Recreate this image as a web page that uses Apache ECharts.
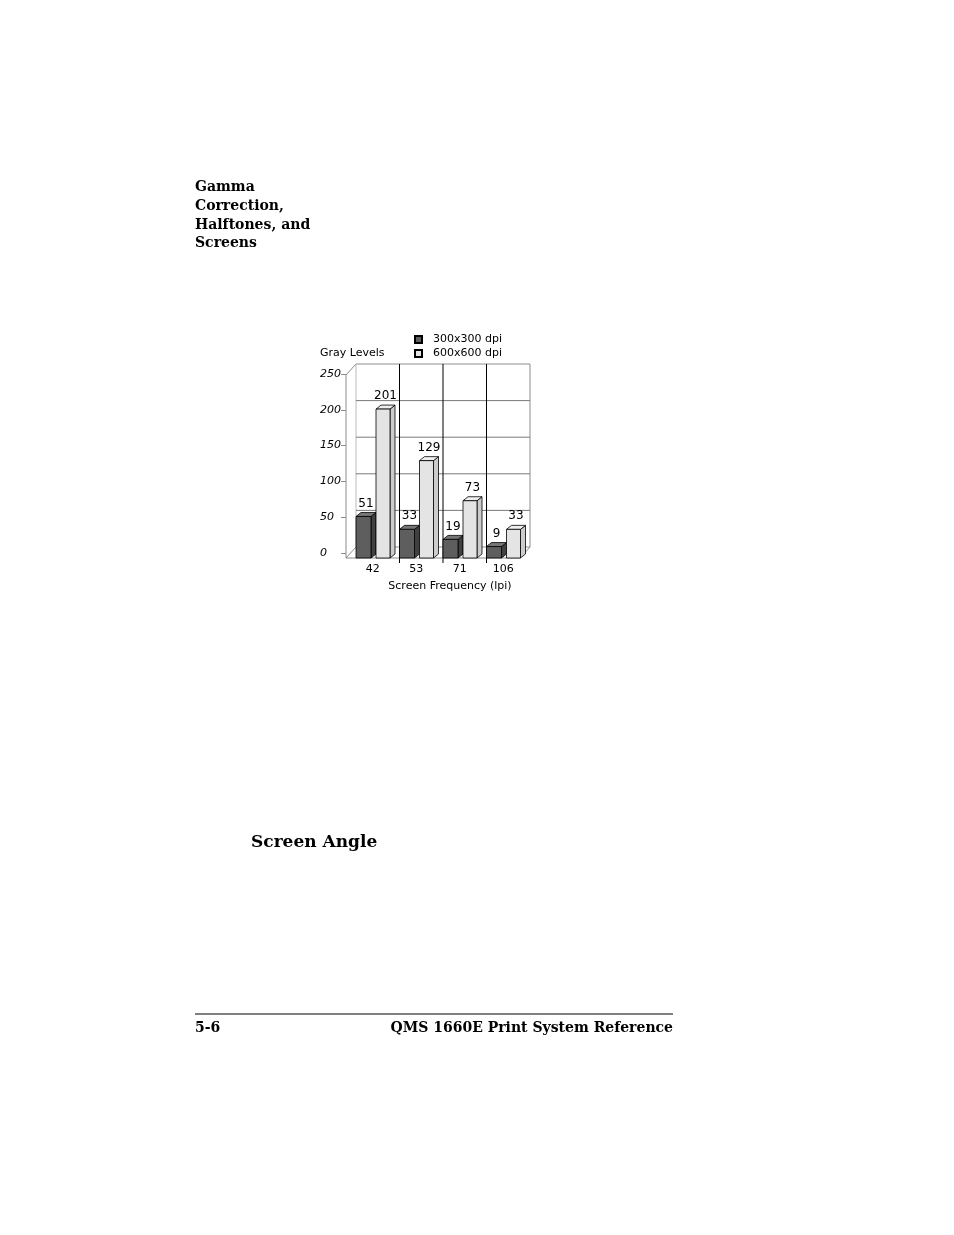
<!DOCTYPE html>
<html>
<head>
<meta charset="utf-8">
<script src="https://cdn.jsdelivr.net/npm/echarts@6/dist/echarts.min.js"></script>
<style>
  html, body { margin: 0; padding: 0; background: #fff; }
  #page { width: 954px; height: 1235px; }
</style>
</head>
<body>
<div id="page"></div>
<script>
// chart data
var categories = ['42', '53', '71', '106'];
var dpi300 = [51, 33, 19, 9];
var dpi600 = [201, 129, 73, 33];
var seriesNames = ['300x300 dpi', '600x600 dpi'];
var gridLevels = [50, 100, 150, 200];

var chartFont = '"DejaVu Sans", sans-serif';
var serifBold = 'bold 14px "DejaVu Serif", "Liberation Serif", serif';

function toPairs(arr) {
    return arr.map(function(v, i) { return [i, v]; });
}

// 3d-ish bar: front face, top face, side face
function barRenderer(offset, width, colors) {
    return function(params, api) {
        var cat = api.value(0), v = api.value(1);
        var base = api.coord([cat, 0]);
        var top = api.coord([cat, v]);
        var band = api.size([1, 0])[0];
        var x = base[0] - band / 2 + offset;
        var yTop = top[1];
        var yBot = base[1] + 5;
        var dx = 5, dy = 4;
        var stroke = { stroke: '#000', lineWidth: 0.8 };
        return {
            type: 'group',
            children: [{
                type: 'polygon',
                shape: { points: [[x + width, yTop], [x + width + dx, yTop - dy], [x + width + dx, yBot - dy], [x + width, yBot]] },
                style: Object.assign({ fill: colors.side }, stroke)
            }, {
                type: 'polygon',
                shape: { points: [[x, yTop], [x + dx, yTop - dy], [x + width + dx, yTop - dy], [x + width, yTop]] },
                style: Object.assign({ fill: colors.top }, stroke)
            }, {
                type: 'rect',
                shape: { x: x, y: yTop, width: width, height: yBot - yTop },
                style: Object.assign({ fill: colors.front }, stroke)
            }, {
                type: 'text',
                style: {
                    text: String(v), x: x + (width + dx) / 2, y: yTop - dy - 3,
                    align: 'center', verticalAlign: 'bottom',
                    textAlign: 'center', textVerticalAlign: 'bottom',
                    font: '12px ' + chartFont, fill: '#000'
                }
            }]
        };
    };
}

// floor, walls, back grid and category dividers
function frameRenderer(params, api) {
    var cs = params.coordSys;
    var x0 = cs.x, x1 = cs.x + cs.width;
    var yZero = api.coord([0, 0])[1];
    var yMax = api.coord([0, 250])[1];
    var band = api.size([1, 0])[0];
    var backBottom = yZero - 6;
    var backTop = yMax - 10;
    function backY(v) {
        return backBottom - (yZero - api.coord([0, v])[1]) * (backBottom - backTop) / (yZero - yMax);
    }
    var gray = { stroke: '#8c8c8c', lineWidth: 1 };
    function seg(a, b, st) {
        return { type: 'line', shape: { x1: a[0], y1: a[1], x2: b[0], y2: b[1] }, style: st || gray };
    }
    var kids = [
        seg([x0 - 5, yMax + 1], [x0 - 5, yZero + 5]),
        seg([x0 - 5, yMax + 1], [x0 + 5, backTop]),
        seg([x0 + 5, backTop], [x1 + 5, backTop]),
        seg([x0 + 5, backTop], [x0 + 5, backBottom], { stroke: '#bbb', lineWidth: 1 }),
        seg([x1 + 5, backTop], [x1 + 5, backBottom]),
        seg([x0 + 5, backBottom], [x1 + 5, backBottom]),
        seg([x0 - 5, yZero + 5], [x1 - 5, yZero + 5]),
        seg([x0 - 5, yZero + 5], [x0 + 5, backBottom]),
        seg([x1 - 5, yZero + 5], [x1 + 5, backBottom])
    ];
    gridLevels.forEach(function(v) {
        var y = backY(v);
        kids.push(seg([x0 + 5, y], [x1 + 5, y], { stroke: '#7a7a7a', lineWidth: 1 }));
    });
    for (var i = 1; i < categories.length; i++) {
        var x = x0 + 5 + band * i;
        kids.push(seg([x, backTop], [x, yZero + 10], { stroke: '#000', lineWidth: 1 }));
    }
    return { type: 'group', children: kids };
}

function pageText(text, x, y, font, align) {
    return {
        type: 'text',
        style: {
            text: text, x: x, y: y, font: font, fill: '#000',
            align: align || 'left', verticalAlign: 'middle',
            textAlign: align || 'left', textVerticalAlign: 'middle'
        }
    };
}

var myChart = echarts.init(document.getElementById('page'));
var option = {
    backgroundColor: '#fff',
    animation: false,
    grid: { left: 351, top: 374, width: 174, height: 179 },
    legend: {
        data: seriesNames,
        orient: 'vertical',
        left: 409,
        top: 328,
        icon: 'rect',
        itemWidth: 7,
        itemHeight: 7,
        itemGap: 1,
        textStyle: { fontFamily: chartFont, fontSize: 11, color: '#000', lineHeight: 13, padding: [0, 0, 0, 6] }
    },
    xAxis: {
        type: 'category',
        data: categories,
        axisLine: { show: false },
        axisTick: { show: false },
        axisLabel: { margin: 11, fontFamily: chartFont, fontSize: 11, color: '#000' }
    },
    yAxis: {
        type: 'value',
        min: 0,
        max: 250,
        interval: 50,
        offset: 5,
        axisLine: { show: false },
        axisTick: { show: true, length: 5, lineStyle: { color: '#8c8c8c' } },
        axisLabel: { margin: 26, align: 'left', fontFamily: chartFont, fontSize: 11, fontStyle: 'italic', color: '#000' },
        splitLine: { show: false }
    },
    graphic: [
        pageText('Gamma', 195, 187, serifBold),
        pageText('Correction,', 195, 206, serifBold),
        pageText('Halftones, and', 195, 225, serifBold),
        pageText('Screens', 195, 243, serifBold),
        pageText('Gray Levels', 320, 353, '11px ' + chartFont),
        pageText('Screen Frequency (lpi)', 450, 586, '11px ' + chartFont, 'center'),
        pageText('Screen Angle', 251, 843, 'bold 17px "DejaVu Serif", "Liberation Serif", serif'),
        {
            type: 'line',
            shape: { x1: 195, y1: 1014, x2: 673, y2: 1014 },
            style: { stroke: '#000', lineWidth: 1 }
        },
        pageText('5-6', 195, 1028, serifBold),
        pageText('QMS 1660E Print System Reference', 673, 1028, serifBold, 'right')
    ],
    series: [{
        name: 'frame',
        type: 'custom',
        renderItem: frameRenderer,
        data: [[0, 0]],
        silent: true,
        z: 1
    }, {
        name: seriesNames[0],
        type: 'custom',
        renderItem: barRenderer(5, 15, { front: '#5e5e5e', top: '#767676', side: '#404040' }),
        itemStyle: { color: '#5e5e5e', borderColor: '#000', borderWidth: 1 },
        data: toPairs(dpi300),
        z: 3
    }, {
        name: seriesNames[1],
        type: 'custom',
        renderItem: barRenderer(25, 14, { front: '#e4e4e4', top: '#eeeeee', side: '#cccccc' }),
        itemStyle: { color: '#e4e4e4', borderColor: '#000', borderWidth: 1 },
        data: toPairs(dpi600),
        z: 3
    }]
};
myChart.setOption(option);
</script>
</body>
</html>
